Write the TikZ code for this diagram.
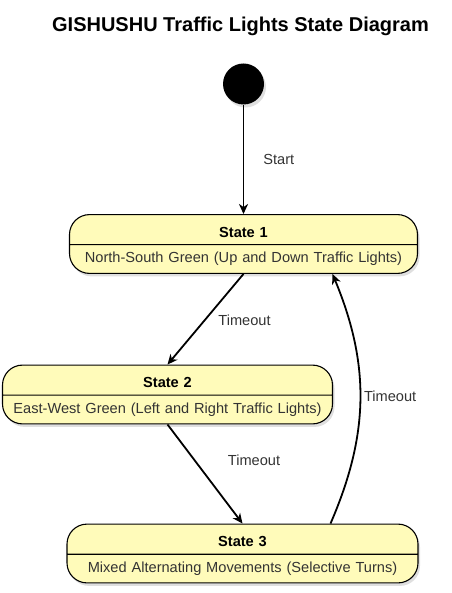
\documentclass[tikz,border=0pt]{standalone}
\usepackage{fontspec}
\setmainfont{Liberation Sans}
\usetikzlibrary{shapes,arrows.meta,shadows}
\definecolor{stateyellow}{RGB}{255,251,186}
\definecolor{labelgray}{RGB}{51,51,51}

\begin{document}
\begin{tikzpicture}[->,>={Stealth[length=10pt,width=9pt,inset=3pt]},line width=1.8pt,node distance=160pt]
\tikzstyle{stbox}=[rectangle split,rectangle split parts=2,draw=black,line width=1.1pt,rounded corners=20pt,fill=stateyellow,drop shadow={shadow xshift=2pt,shadow yshift=-3pt,opacity=0.25},inner xsep=5pt,inner ysep=7pt,text height=15pt,text depth=0pt,align=center,font=\fontsize{14.6}{17}\selectfont,text=labelgray]
\tikzstyle{lbl}=[font=\fontsize{14.6}{17}\selectfont,text=labelgray,inner sep=0pt]
\useasboundingbox (0,0) rectangle (451pt,-593pt);
\node[anchor=base,font=\fontsize{20}{24}\selectfont\bfseries] (title) at (240.5pt,-31.5pt) {GISHUSHU Traffic Lights State Diagram};
\node[circle,fill=black,minimum size=41pt,inner sep=0pt,drop shadow={shadow xshift=2pt,shadow yshift=-3pt,opacity=0.25}] (init) at (243.5pt,-84pt) {};
\node[stbox,text width=338pt][below of=init](s1){\textcolor{black}{\bfseries State 1}\nodepart{second}North-South Green (Up and Down Traffic Lights)};
\node[stbox,text width=320pt][below of=s1,node distance=150.5pt,xshift=-76pt](s2){\textcolor{black}{\bfseries State 2}\nodepart{second}East-West Green (Left and Right Traffic Lights)};
\node[stbox,text width=341pt][below of=s2,node distance=159pt,xshift=75pt](s3){\textcolor{black}{\bfseries State 3}\nodepart{second}Mixed Alternating Movements (Selective Turns)};
\path (init)edge node[lbl,right,xshift=19pt]{Start}(s1)
      (s1.south)edge node[lbl,right,xshift=12pt,yshift=-1pt]{Timeout}(s2.north)
      (s2.south)edge node[lbl,right,xshift=22pt,yshift=14pt]{Timeout}(s3.north)
      ([xshift=88pt]s3.north)edge [bend right=23]node[lbl,right,xshift=3pt,yshift=3pt]{Timeout}([xshift=89pt]s1.south);
\end{tikzpicture}
\end{document}
